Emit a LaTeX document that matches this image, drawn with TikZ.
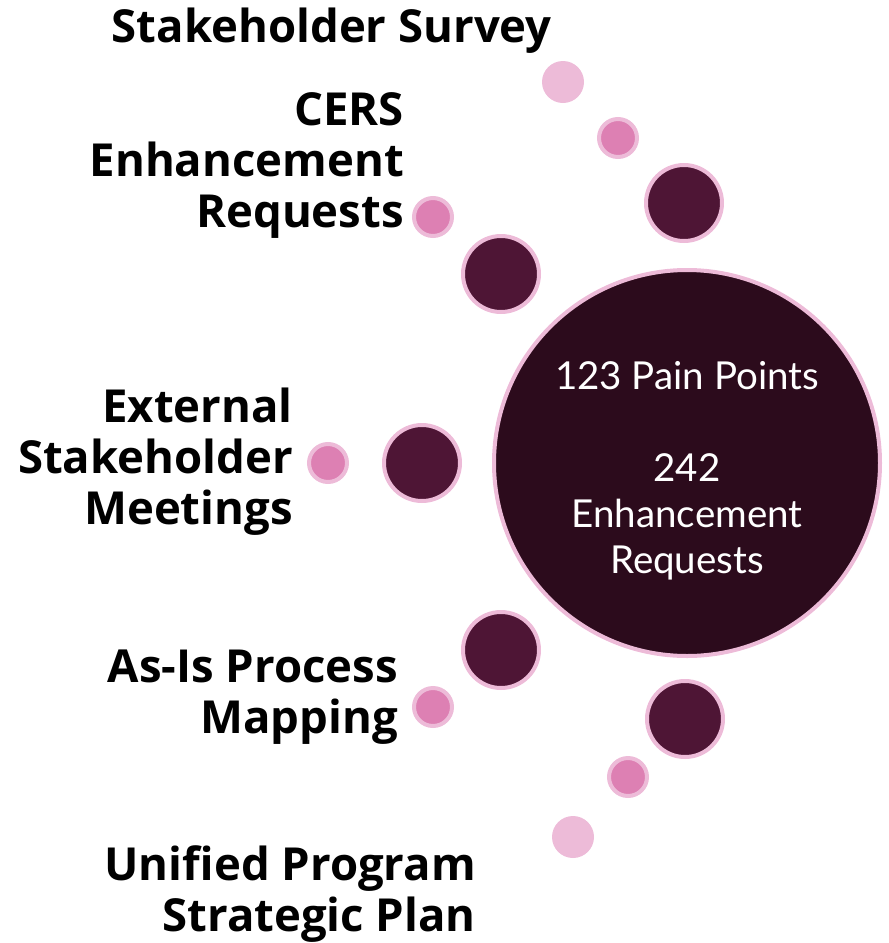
\documentclass[tikz,border=0pt]{standalone}
\usepackage{fontspec}
\setmainfont{Lato}
\newfontfamily\lblfont{Open Sans}
\definecolor{darkc}{HTML}{4E1535}
\definecolor{centerc}{HTML}{2C0B1C}
\definecolor{lightc}{HTML}{EDBBD8}
\definecolor{midc}{HTML}{DD80B3}
\tikzset{
  darkdot/.style={circle, fill=darkc, draw=lightc, line width=4pt, minimum size=76pt, inner sep=0pt},
  pinkdot/.style={circle, fill=midc, draw=lightc, line width=4pt, minimum size=38pt, inner sep=0pt},
  lightdot/.style={circle, fill=lightc, minimum size=42pt, inner sep=0pt},
  bigdot/.style={circle, fill=centerc, draw=lightc, line width=4pt, minimum size=386pt, inner sep=0pt},
  lbl/.style={font=\lblfont\fontsize{45.5}{51}\selectfont\bfseries, align=right, anchor=east, inner sep=0pt},
  centertext/.style={font=\fontsize{38.5}{46}\selectfont, text=white, align=center, inner sep=0pt}
}
\begin{document}
\begin{tikzpicture}[x=1pt,y=-1pt]
\useasboundingbox (0,0) rectangle (889,943);
\node[bigdot] (big) at (687,463) {};
\node[centertext] (bigtext) at (687,471) {123 Pain Points\\ \mbox{}\\ 242\\ Enhancement\\ Requests};
\node[lightdot] (l1) at (563,82) {};
\node[pinkdot] (p1) at (618,138) {};
\node[darkdot] (d1) at (684,203) {};
\node[pinkdot] (p2) at (433,217) {};
\node[darkdot] (d2) at (501,274) {};
\node[pinkdot] (p3) at (328,463) {};
\node[darkdot] (d3) at (422,463) {};
\node[darkdot] (d4) at (501,650) {};
\node[pinkdot] (p4) at (433,707) {};
\node[darkdot] (d5) at (685,719) {};
\node[pinkdot] (p5) at (628,777) {};
\node[lightdot] (l2) at (573,837) {};
\node[lbl] (t1) at (552,31) {Stakeholder Survey};
\node[lbl] (t2) at (404,165) {CERS\\ Enhancement\\ Requests};
\node[lbl] (t3) at (293,462) {External\\ Stakeholder\\ Meetings};
\node[lbl] (t4) at (398,697) {As-Is Process\\ Mapping};
\node[lbl] (t5) at (476,894) {Unified Program\\ Strategic Plan};
\end{tikzpicture}
\end{document}
